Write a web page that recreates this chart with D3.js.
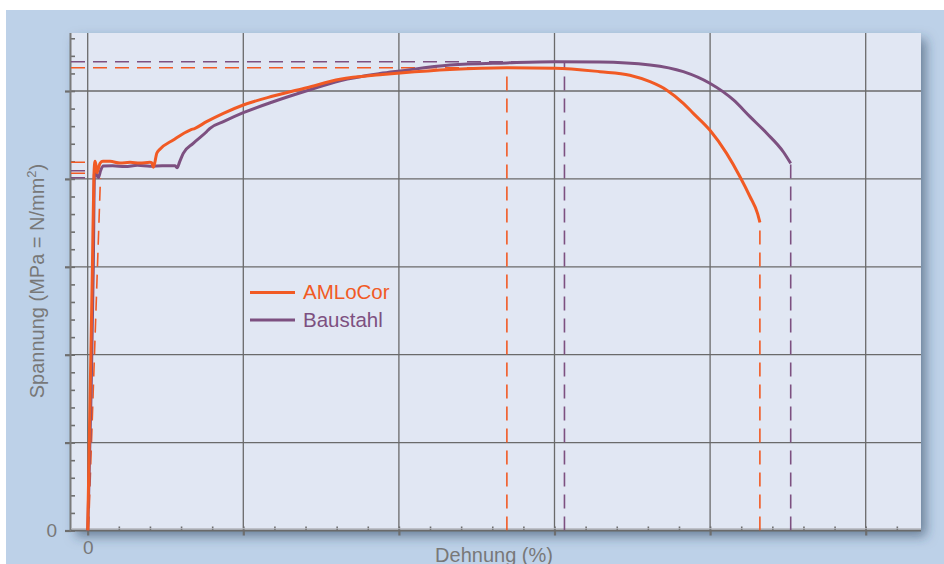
<!DOCTYPE html>
<html><head><meta charset="utf-8">
<script src="https://cdn.jsdelivr.net/npm/d3@7"></script>
<style>
html,body{margin:0;padding:0;background:#fff;}
svg{display:block;font-family:"Liberation Sans",Arial,Helvetica,sans-serif;}
</style></head>
<body>
<svg id="chart" width="944" height="564"></svg>
<script>
// ---------- data (Dehnung in %, Spannung in MPa) ----------
const seriesNames = ["AMLoCor", "Baustahl"];
const amlocorStrain = [0, 0.15, 0.20, 0.235, 0.27, 0.30, 0.33, 0.40, 0.49, 0.72, 1.04, 1.36, 1.68, 2.00, 2.06, 2.11, 2.22, 2.32, 2.75, 3.29, 3.45, 3.82, 4.36, 5.00, 5.96, 7.04, 8.11, 9.39, 10.04, 11.64, 13.47, 15.02, 16.46, 17.42, 18.07, 18.61, 19.14, 19.46, 19.99, 20.53, 20.96, 21.28, 21.52, 21.60];
const amlocorStress = [0, 296, 404, 420, 415, 407, 410, 418, 420, 420, 418, 419, 418, 419, 418.4, 413.2, 429.1, 433.7, 444.3, 455.6, 457.6, 465.1, 474.6, 484.1, 494.3, 503.8, 513.3, 518.5, 520.5, 524.5, 526.5, 526, 522, 518, 510.6, 501, 486, 474.6, 455.6, 429, 402.5, 380, 361, 350.6];
const baustahlStrain = [0, 0.18, 0.22, 0.28, 0.34, 0.42, 0.50, 0.80, 1.20, 1.60, 2.00, 2.40, 2.81, 2.87, 2.96, 3.07, 3.39, 3.82, 3.93, 4.36, 5.00, 5.96, 7.04, 8.11, 9.39, 10.04, 11.64, 13.47, 15.02, 16.46, 18.07, 19.14, 19.99, 20.75, 21.28, 21.82, 22.35, 22.59];
const baustahlStress = [0, 300, 409, 405, 401.5, 410, 414.7, 415, 414, 415.5, 414.5, 415, 415, 412.7, 420, 429.1, 440.5, 453.7, 457.6, 465.1, 475.3, 487.8, 500.3, 511.7, 519.8, 522.8, 529.5, 532, 533.3, 533, 529.6, 522, 508.8, 489.8, 470.8, 451.9, 430.9, 417.7];
// characteristic values
const amlocorTensile = [13.47, 526.5];     // Agt, Rm
const baustahlTensile = [15.32, 533.3];
const amlocorFracture = [21.60, 350.6];
const baustahlFracture = [22.59, 417.7];
const amlocorYield = [418.9, 406.4];       // upper / lower yield
const baustahlYield = [409.3, 401.4];
const amlocorOffsetLine = [[0.026, 0], [0.41, 401]]; // 0.2 % offset line
// axes
const xMajorTicks = [0, 5, 10, 15, 20, 25];
const xTickLabels = ["0", "", "", "", "", ""];
const xMinorTicks = d3.range(0, 27, 1);
const yMajorTicks = [0, 100, 200, 300, 400, 500];
const yTickLabels = ["0", "", "", "", "", ""];
const yMinorTicks = d3.range(0, 566, 20);
const xTitle = "Dehnung (%)";
const yTitle = "Spannung (MPa = N/mm";

// ---------- layout ----------
const orange = "#f15a24", purple = "#7d5080", gridCol = "#6a6a6a", textCol = "#787878";
const L = 71, R = 921, T = 33, B = 530.5;
const x = d3.scaleLinear().domain([(L - 87.7) / 31.12, (R - 87.7) / 31.12]).range([L, R]);
const y = d3.scaleLinear().domain([0, 566]).range([B, T]);

const svg = d3.select("#chart");
const defs = svg.append("defs");
const f = defs.append("filter").attr("id", "sh").attr("x", "-5%").attr("y", "-5%").attr("width", "115%").attr("height", "120%");
f.append("feDropShadow").attr("dx", 5).attr("dy", 6).attr("stdDeviation", 6).attr("flood-color", "#2c3e58").attr("flood-opacity", 0.55);
defs.append("clipPath").attr("id", "clip").append("rect").attr("x", L).attr("y", T).attr("width", R - L).attr("height", B - T);

// background
svg.append("rect").attr("x", 6).attr("y", 10).attr("width", 938).attr("height", 554).attr("fill", "#bdd1e8");
svg.append("rect").attr("x", L).attr("y", T).attr("width", R - L).attr("height", B - T)
  .attr("fill", "#e1e7f3").attr("filter", "url(#sh)");

// grid
const grid = svg.append("g");
grid.selectAll(".gx").data(xMajorTicks).join("line")
  .attr("x1", d => x(d)).attr("x2", d => x(d)).attr("y1", T).attr("y2", B)
  .attr("stroke", gridCol).attr("stroke-width", 1.3);
grid.selectAll(".gy").data(yMajorTicks.filter(d => d > 0)).join("line")
  .attr("x1", L).attr("x2", R).attr("y1", d => y(d)).attr("y2", d => y(d))
  .attr("stroke", gridCol).attr("stroke-width", 1.3);

// axes
const axisCol = "#6e6e6e";
const yAxisMajor = svg.append("g").attr("transform", `translate(${L},0)`)
  .call(d3.axisLeft(y).tickValues(yMajorTicks).tickSize(6).tickFormat((d, i) => yTickLabels[i]).tickPadding(8));
const yAxisMinor = svg.append("g").attr("transform", `translate(${L},0)`)
  .call(d3.axisRight(y).tickValues(yMinorTicks).tickSize(4).tickFormat(""));
const xAxisMajor = svg.append("g").attr("transform", `translate(0,${B})`)
  .call(d3.axisBottom(x).tickValues(xMajorTicks).tickSize(5).tickFormat((d, i) => xTickLabels[i]).tickPadding(5));
const xAxisMinor = svg.append("g").attr("transform", `translate(0,${B})`)
  .call(d3.axisTop(x).tickValues(xMinorTicks).tickSize(4).tickFormat(""));
[yAxisMajor, yAxisMinor, xAxisMajor, xAxisMinor].forEach(g => {
  g.select(".domain").remove();
  g.selectAll(".tick line").attr("stroke", axisCol).attr("stroke-width", 1.6);
  g.selectAll(".tick text").attr("fill", textCol).attr("font-size", 19).attr("font-family", "Liberation Sans, Arial, sans-serif");
});
xAxisMajor.selectAll(".tick line").attr("stroke-width", 2.2);
yAxisMajor.selectAll(".tick line").attr("stroke-width", 2.2);
svg.append("line").attr("x1", L - 0.5).attr("x2", L - 0.5).attr("y1", T).attr("y2", B + 1)
  .attr("stroke", "#7a7a7a").attr("stroke-width", 2);
svg.append("line").attr("x1", L).attr("x2", R).attr("y1", B).attr("y2", B)
  .attr("stroke", "#6a6a6a").attr("stroke-width", 2.2);
svg.append("line").attr("x1", L).attr("x2", R).attr("y1", B - 1.8).attr("y2", B - 1.8)
  .attr("stroke", "#b5b8bf").attr("stroke-width", 1);

// titles
svg.append("text").attr("x", 494).attr("y", 562).attr("text-anchor", "middle")
  .attr("font-size", 20).attr("fill", textCol).text(xTitle);
const yt = svg.append("text").attr("transform", "translate(44,281) rotate(-90)").attr("text-anchor", "middle")
  .attr("font-size", 20).attr("fill", textCol).text(yTitle);
yt.append("tspan").attr("font-size", 13).attr("dy", -8).text("2");
yt.append("tspan").attr("dy", 8).text(")");

// dashed reference lines
const dash = svg.append("g").attr("clip-path", "url(#clip)").attr("fill", "none").attr("stroke-width", 1.6).attr("stroke-dasharray", "14,8");
const x0 = x.domain()[0];
function hline(v, xe, c) { dash.append("line").attr("x1", x(x0)).attr("x2", x(xe)).attr("y1", y(v)).attr("y2", y(v)).attr("stroke", c); }
function vline(xv, v, c) { dash.append("line").attr("x1", x(xv)).attr("x2", x(xv)).attr("y1", y(0)).attr("y2", y(v)).attr("stroke", c); }
hline(baustahlTensile[1], baustahlTensile[0], purple);
hline(amlocorTensile[1], amlocorTensile[0], orange);
vline(baustahlTensile[0], baustahlTensile[1], purple);
vline(amlocorTensile[0], amlocorTensile[1], orange);
vline(baustahlFracture[0], baustahlFracture[1], purple);
vline(amlocorFracture[0], amlocorFracture[1], orange);
amlocorYield.forEach(v => hline(v, 0, orange));
baustahlYield.forEach(v => hline(v, 0, purple));
dash.append("line").attr("x1", x(amlocorOffsetLine[0][0])).attr("y1", y(amlocorOffsetLine[0][1]))
  .attr("x2", x(amlocorOffsetLine[1][0])).attr("y2", y(amlocorOffsetLine[1][1])).attr("stroke", orange);

// curves
const line = d3.line().x(d => x(d[0])).y(d => y(d[1])).curve(d3.curveMonotoneX);
const curves = svg.append("g").attr("clip-path", "url(#clip)").attr("fill", "none").attr("stroke-width", 3).attr("stroke-linejoin", "round");
curves.append("path").attr("d", line(d3.zip(baustahlStrain, baustahlStress))).attr("stroke", purple);
curves.append("path").attr("d", line(d3.zip(amlocorStrain, amlocorStress))).attr("stroke", orange);

// legend
const legend = svg.append("g");
[[orange, 292.5, 299], [purple, 320, 327]].forEach((c, i) => {
  legend.append("line").attr("x1", 250).attr("x2", 295).attr("y1", c[1]).attr("y2", c[1]).attr("stroke", c[0]).attr("stroke-width", 3);
  legend.append("text").attr("x", 303).attr("y", c[2]).attr("font-size", 20.5).attr("fill", c[0]).text(seriesNames[i]);
});
</script>
</body></html>
